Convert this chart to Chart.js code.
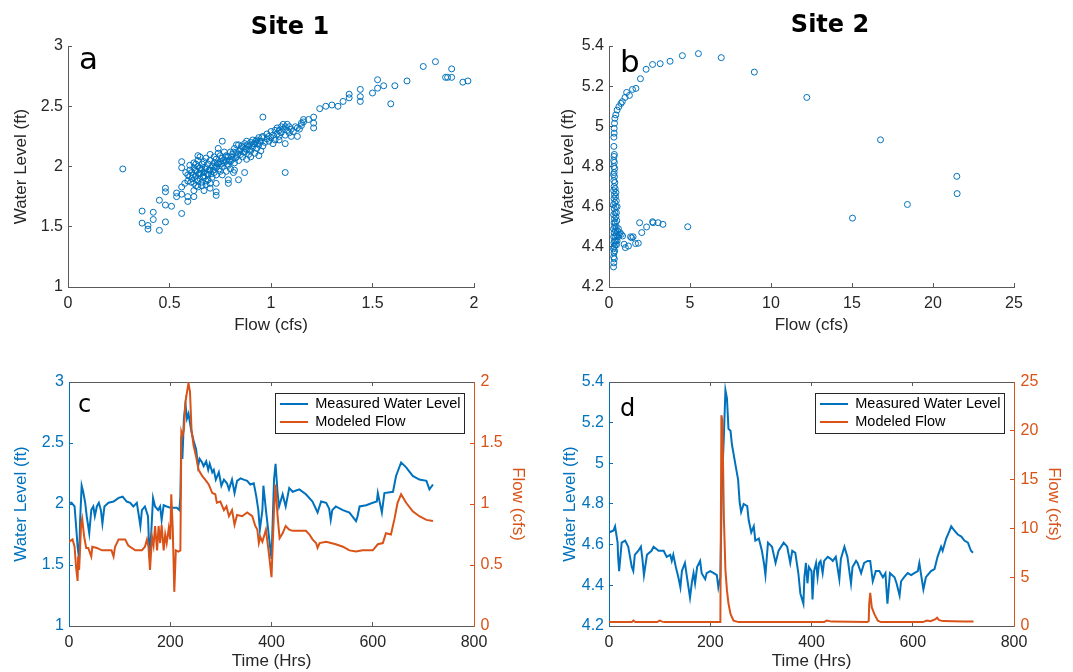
<!DOCTYPE html>
<html>
<head>
<meta charset="utf-8">
<title>Water Level and Flow - Site 1 and Site 2</title>
<style>
  body { margin: 0; background: #fff; }
  #wrap { position: relative; width: 1073px; height: 672px; }
  canvas { position: absolute; }
</style>
</head>
<body>
<div id="wrap">
  <canvas id="chartA" width="537" height="336" style="left:0;top:0"></canvas>
  <canvas id="chartB" width="536" height="336" style="left:537px;top:0"></canvas>
  <canvas id="chartC" width="537" height="336" style="left:0;top:336px"></canvas>
  <canvas id="chartD" width="536" height="336" style="left:537px;top:336px"></canvas>
</div>

<script src="https://cdn.jsdelivr.net/npm/chart.js@4.4.1/dist/chart.umd.min.js"></script>
<script>
// ---- data ----
// panel a: [flow cfs, water level ft]
var siteOneRating = [
  [0.27,1.98],[0.365,1.63],[0.365,1.53],[0.394,1.51],[0.394,1.48],[0.42,1.62],[0.42,1.56],[0.45,1.72],
  [0.45,1.47],[0.48,1.82],[0.48,1.79],[0.48,1.68],[0.48,1.54],[0.51,1.67],[0.535,1.78],[0.535,1.75],
  [0.56,2.04],[0.56,1.99],[0.56,1.83],[0.56,1.77],[0.56,1.61],[0.575,1.86],[0.59,1.71],[0.59,1.75],
  [0.58,1.95],[0.62,1.75],[0.67,1.80],[0.70,1.82],[0.73,1.76],[0.73,1.79],[0.73,1.86],[0.76,2.21],
  [0.79,1.86],[0.79,1.89],[0.84,1.89],[0.87,1.95],[0.815,1.95],[0.82,1.97],[0.96,2.41],[1.07,1.95],
  [1.01,2.19],[1.07,2.19],[1.04,2.22],[1.10,2.25],[1.13,2.25],[1.13,2.32],[1.16,2.39],[1.185,2.39],
  [1.21,2.41],[1.21,2.32],[1.21,2.36],[1.24,2.48],[1.27,2.50],[1.30,2.51],[1.33,2.50],[1.355,2.54],
  [1.385,2.60],[1.385,2.57],[1.44,2.64],[1.44,2.58],[1.44,2.54],[1.50,2.61],[1.525,2.72],[1.525,2.65],
  [1.555,2.67],[1.59,2.52],[1.61,2.67],[1.67,2.71],[1.75,2.83],[1.81,2.87],[1.86,2.74],[1.87,2.74],
  [1.89,2.81],[1.89,2.74],[1.945,2.70],[1.97,2.71],
  [0.59,1.88],[0.59,1.93],[0.60,1.97],[0.60,2.01],[0.61,1.90],[0.61,1.95],[0.62,1.86],[0.62,1.99],
  [0.62,2.03],[0.60,1.92],[0.63,1.84],[0.63,1.92],[0.63,1.96],[0.64,1.88],[0.64,2.00],[0.64,2.05],
  [0.65,1.90],[0.65,1.94],[0.65,2.08],[0.66,1.87],[0.66,1.98],[0.66,2.02],[0.64,2.09],[0.63,2.02],
  [0.65,1.99],[0.67,1.91],[0.67,1.95],[0.67,2.04],[0.68,1.88],[0.68,1.99],[0.68,2.07],[0.69,1.93],
  [0.69,2.02],[0.70,1.86],[0.70,1.97],[0.70,2.05],[0.70,2.10],[0.71,1.91],[0.71,2.00],[0.72,1.95],
  [0.72,2.03],[0.72,2.08],[0.69,1.89],[0.73,1.93],[0.73,1.99],[0.73,2.06],[0.74,2.02],[0.74,2.11],
  [0.74,2.15],[0.75,1.96],[0.75,2.04],[0.75,2.09],[0.76,1.93],[0.76,2.00],[0.76,2.07],[0.77,2.03],
  [0.77,2.12],[0.78,1.96],[0.78,2.05],[0.78,2.09],[0.79,2.01],[0.79,2.08],[0.80,2.04],[0.80,2.12],
  [0.80,1.98],[0.81,2.06],[0.81,2.10],[0.82,2.03],[0.82,2.15],[0.83,2.08],[0.83,2.12],[0.84,2.05],
  [0.84,2.18],[0.85,2.10],[0.85,2.14],[0.83,2.18],[0.86,2.08],[0.86,2.16],[0.87,2.12],[0.87,2.19],
  [0.88,2.06],[0.88,2.14],[0.88,2.21],[0.89,2.10],[0.89,2.17],[0.90,2.13],[0.90,2.20],[0.90,2.08],
  [0.91,2.16],[0.91,2.22],[0.92,2.11],[0.92,2.19],[0.93,2.15],[0.93,2.22],[0.94,2.09],[0.94,2.18],
  [0.94,2.24],[0.95,2.13],[0.95,2.21],[0.96,2.17],[0.96,2.25],[0.97,2.20],[0.98,2.23],[0.98,2.27],
  [0.99,2.21],[0.99,2.25],[1.00,2.24],[1.00,2.29],[1.01,2.26],[1.02,2.22],[1.02,2.30],[1.03,2.27],
  [1.03,2.32],[1.04,2.25],[1.04,2.30],[1.05,2.33],[1.05,2.28],[1.06,2.31],[1.06,2.35],[1.07,2.26],
  [1.07,2.33],[1.08,2.30],[1.08,2.35],[1.09,2.28],[1.09,2.33],[1.10,2.31],[1.11,2.29],[1.12,2.33],
  [1.14,2.31],[1.15,2.36],[1.15,2.34],[1.16,2.37],
  [0.605,1.87],[0.615,1.93],[0.625,1.97],[0.635,1.89],[0.645,1.94],[0.655,1.97],[0.665,1.92],[0.675,1.98],
  [0.685,1.94],[0.695,1.97],[0.705,1.94],[0.715,1.97],[0.725,2.00],[0.735,2.03],[0.745,1.98],[0.755,2.02],
  [0.765,2.05],[0.775,2.08],[0.785,2.02],[0.795,2.05],[0.805,2.08],[0.815,2.12],[0.825,2.07],[0.835,2.10],
  [0.845,2.13],[0.855,2.17],[0.865,2.12],[0.875,2.15],[0.885,2.18],[0.895,2.14],[0.905,2.17],[0.915,2.19],
  [0.925,2.21],[0.935,2.19],[0.945,2.21],[0.955,2.24],[0.62,1.80],[0.64,1.83],[0.66,1.84],[0.68,1.85]
];

// panel b: [flow cfs, water level ft]
var siteTwoRating = [
  [0.30,4.90],[0.30,4.946],[0.32,4.966],[0.32,4.99],[0.34,5.015],[0.36,5.04],[0.42,5.057],[0.50,5.081],
  [0.61,5.098],[0.74,5.114],[0.82,5.123],[0.99,5.144],[1.09,5.169],[1.26,5.154],[1.45,5.184],[1.66,5.189],
  [1.94,5.237],[2.29,5.284],[2.69,5.308],[3.16,5.312],[3.77,5.324],[4.53,5.352],[5.52,5.362],[6.93,5.342],
  [8.97,5.27],[12.21,5.144],[16.76,4.933],[21.47,4.751],[21.49,4.665],[18.42,4.611],[15.03,4.543],[4.86,4.50],
  [1.89,4.52],[2.69,4.525],[2.72,4.52],[3.03,4.52],[3.33,4.512],[2.32,4.499],[2.02,4.471],[1.81,4.418],
  [1.64,4.416],[1.49,4.45],[1.40,4.445],[1.33,4.45],[1.20,4.404],[1.01,4.396],[0.93,4.413],[0.84,4.454],
  [0.76,4.462],
  [0.28,4.30],[0.30,4.32],[0.33,4.34],[0.29,4.35],[0.31,4.37],[0.35,4.38],[0.28,4.39],[0.32,4.40],
  [0.38,4.41],[0.30,4.42],[0.34,4.43],[0.42,4.43],[0.29,4.45],[0.37,4.45],[0.46,4.46],[0.32,4.47],
  [0.40,4.48],[0.52,4.48],[0.28,4.49],[0.35,4.50],[0.44,4.50],[0.58,4.49],[0.31,4.52],[0.39,4.52],
  [0.48,4.53],[0.34,4.54],[0.43,4.55],[0.29,4.56],[0.37,4.57],[0.46,4.57],[0.32,4.59],[0.41,4.60],
  [0.50,4.60],[0.28,4.61],[0.36,4.62],[0.45,4.63],[0.31,4.64],[0.40,4.65],[0.34,4.66],[0.43,4.67],
  [0.29,4.68],[0.38,4.69],[0.32,4.70],[0.36,4.72],[0.30,4.73],[0.34,4.75],[0.28,4.76],[0.32,4.77],
  [0.35,4.79],[0.30,4.80],[0.33,4.82],[0.29,4.83],[0.31,4.85],[0.33,4.86],[0.62,4.46],[0.68,4.47],
  [0.55,4.45],[0.50,4.43],[0.46,4.41]
];

// panel c: [hours, value]
var siteOneLevel = [
  [0,2.01],[5,2.01],[11,1.98],[14,1.82],[17,1.65],[20,1.55],[22,1.87],[25,2.15],[28,2.10],[32,2.01],
  [35,1.90],[40,1.76],[44,1.95],[48,1.98],[51,1.90],[55,1.98],[59,2.01],[63,1.95],[66,1.84],[70,1.98],
  [78,2.01],[88,2.02],[98,2.05],[106,2.06],[114,2.02],[121,2.01],[127,1.98],[134,2.01],[137,1.93],[141,1.82],
  [144,1.95],[150,1.98],[156,1.90],[159,1.57],[162,1.73],[166,2.05],[170,1.98],[176,1.95],[180,1.98],[183,1.87],
  [187,1.99],[193,1.98],[200,1.97],[207,1.97],[213,1.97],[218,1.95],[220,2.06],[222,2.56],[224,2.37],[227,2.70],
  [230,2.82],[233,2.70],[236,2.74],[242,2.59],[246,2.52],[251,2.45],[255,2.31],[258,2.37],[263,2.34],[266,2.31],
  [271,2.35],[275,2.28],[278,2.33],[283,2.26],[286,2.28],[290,2.20],[296,2.26],[301,2.15],[306,2.20],[312,2.17],
  [316,2.12],[322,2.20],[327,2.09],[332,2.19],[339,2.21],[345,2.20],[352,2.19],[358,2.16],[365,2.17],[370,2.06],
  [374,1.95],[377,1.79],[382,1.95],[384,2.15],[389,1.95],[395,1.73],[400,1.55],[405,2.20],[408,2.33],[412,2.09],
  [415,1.98],[422,2.08],[428,1.98],[435,2.13],[442,2.10],[455,2.12],[468,2.08],[481,2.02],[491,1.93],[498,2.02],
  [508,2.01],[514,1.96],[517,1.87],[520,1.95],[527,1.98],[541,1.95],[554,1.93],[567,1.86],[570,1.90],[574,1.98],
  [587,1.99],[600,2.01],[608,2.02],[610,2.09],[613,2.03],[618,1.93],[623,2.09],[640,2.10],[646,2.23],[656,2.34],
  [666,2.30],[679,2.23],[692,2.20],[706,2.19],[712,2.12],[719,2.16]
];
var siteOneFlow = [
  [0,0.69],[7,0.71],[11,0.65],[14,0.48],[17,0.37],[18,0.57],[20,0.46],[24,0.84],[26,0.88],[30,0.73],
  [34,0.64],[38,0.64],[44,0.57],[46,0.65],[55,0.64],[65,0.62],[75,0.62],[84,0.62],[88,0.57],[91,0.65],
  [98,0.71],[111,0.71],[117,0.66],[131,0.62],[144,0.62],[150,0.65],[154,0.71],[157,0.65],[160,0.46],[164,0.73],
  [167,0.66],[170,0.82],[174,0.62],[177,0.82],[180,0.68],[183,0.83],[187,0.62],[190,0.75],[193,0.68],[197,0.80],
  [200,0.71],[202,1.08],[205,0.79],[208,0.28],[211,0.62],[216,0.61],[220,0.62],[222,1.59],[224,1.56],[227,1.61],
  [230,1.83],[232,1.89],[234,1.94],[236,1.99],[239,1.92],[242,1.61],[246,1.48],[251,1.39],[256,1.28],[263,1.23],
  [269,1.20],[276,1.16],[283,1.09],[289,1.08],[292,1.01],[299,1.02],[306,0.95],[311,0.98],[316,0.90],[322,0.95],
  [327,0.83],[332,0.91],[342,0.90],[352,0.93],[362,0.90],[368,0.82],[372,0.79],[375,0.68],[378,0.73],[382,0.69],
  [389,0.79],[395,0.59],[400,0.40],[405,0.95],[408,1.16],[412,0.90],[416,0.72],[422,0.76],[428,0.82],[435,0.79],
  [442,0.78],[468,0.78],[475,0.75],[481,0.71],[488,0.68],[491,0.64],[495,0.68],[508,0.69],[527,0.67],[541,0.65],
  [554,0.62],[567,0.61],[580,0.62],[600,0.62],[610,0.67],[620,0.68],[626,0.76],[636,0.75],[643,0.88],[649,1.01],
  [656,1.08],[666,1.01],[679,0.94],[692,0.90],[706,0.87],[719,0.86]
];

// panel d: [hours, value]
var siteTwoLevel = [
  [0,4.66],[9,4.67],[12,4.69],[17,4.61],[18,4.54],[20,4.47],[25,4.61],[32,4.62],[38,4.59],[45,4.49],
  [48,4.47],[51,4.55],[58,4.57],[63,4.59],[66,4.53],[69,4.45],[75,4.55],[84,4.57],[88,4.59],[98,4.57],
  [108,4.57],[114,4.54],[121,4.55],[124,4.52],[127,4.55],[132,4.49],[137,4.44],[141,4.39],[144,4.47],[150,4.51],
  [154,4.44],[160,4.34],[164,4.42],[167,4.46],[170,4.41],[174,4.49],[180,4.52],[183,4.46],[190,4.43],[193,4.46],
  [200,4.47],[207,4.46],[213,4.45],[216,4.39],[220,4.44],[223,4.89],[227,5.14],[230,5.36],[233,5.32],[236,5.17],
  [240,5.16],[243,5.09],[250,4.99],[255,4.92],[258,4.81],[261,4.76],[266,4.80],[273,4.79],[276,4.72],[281,4.66],
  [286,4.69],[289,4.62],[296,4.63],[302,4.57],[306,4.51],[309,4.45],[314,4.61],[322,4.59],[329,4.51],[335,4.57],
  [345,4.61],[352,4.59],[358,4.51],[362,4.57],[368,4.56],[374,4.46],[378,4.36],[384,4.31],[386,4.44],[389,4.51],
  [392,4.41],[395,4.49],[400,4.47],[402,4.33],[405,4.47],[409,4.51],[412,4.44],[415,4.51],[418,4.52],[422,4.46],
  [425,4.52],[432,4.54],[438,4.53],[442,4.52],[448,4.54],[455,4.43],[458,4.53],[465,4.59],[471,4.54],[478,4.41],
  [481,4.49],[488,4.52],[491,4.51],[498,4.46],[504,4.51],[511,4.52],[516,4.52],[521,4.42],[527,4.47],[534,4.47],
  [541,4.44],[546,4.46],[550,4.31],[555,4.46],[564,4.44],[568,4.41],[574,4.35],[577,4.42],[583,4.44],[590,4.46],
  [597,4.45],[603,4.46],[610,4.47],[613,4.51],[616,4.46],[621,4.38],[626,4.44],[636,4.47],[643,4.48],[649,4.54],
  [656,4.59],[659,4.57],[666,4.63],[673,4.67],[676,4.69],[682,4.67],[689,4.65],[696,4.64],[702,4.62],[709,4.61],
  [715,4.57],[719,4.56]
];
var siteTwoFlow = [
  [0,0.40],[45,0.40],[48,0.55],[52,0.40],[95,0.40],[100,0.55],[105,0.45],[110,0.40],[220,0.40],[222,21.6],
  [224,21.0],[227,10.9],[230,5.7],[233,3.65],[236,2.3],[240,1.24],[246,0.55],[256,0.40],[425,0.40],[430,0.55],
  [440,0.45],[510,0.40],[513,0.50],[514,2.3],[516,3.4],[519,1.93],[524,1.24],[531,0.55],[537,0.40],[620,0.40],
  [628,0.55],[635,0.50],[645,0.70],[648,0.85],[652,0.60],[660,0.50],[700,0.45],[720,0.45]
];

var BLUE = '#0072BD';
var ORANGE = '#D95319';
var AXIS = '#5a5a5a';
var TEXT = '#262626';

Chart.defaults.font.family = '"Liberation Sans", Arial, Helvetica, sans-serif';
Chart.defaults.font.size = 16;
Chart.defaults.color = TEXT;
Chart.defaults.animation = false;

function toXY(pairs) {
  return pairs.map(function (p) { return { x: p[0], y: p[1] }; });
}

// MATLAB style labels: "2" not "2.0"
function plainLabel(value) {
  return String(Math.round(value * 100) / 100);
}

function makeAxis(o) {
  var horizontal = o.pos === 'top' || o.pos === 'bottom';
  return {
    type: 'linear',
    position: o.pos,
    min: o.min,
    max: o.max,
    ticks: { stepSize: o.step, color: o.color, padding: o.pad || 0, display: o.labels !== false,
             maxRotation: 0, autoSkip: false, callback: plainLabel },
    grid: { drawOnChartArea: false, tickLength: -4, color: o.line || o.color },
    border: { color: o.line || o.color, width: 1 },
    title: { display: !!o.title, text: o.title, color: o.color, font: { size: 17 }, padding: o.titlePad },
    afterFit: function (s) {
      if (horizontal) s.height = o.size; else s.width = o.size;
    }
  };
}

// panel letters, site titles, and the legend placed inside the plot box
var panelExtras = {
  id: 'panelExtras',
  afterLayout: function (chart) {
    var lg = chart.legend;
    if (!lg || !lg.options.display) return;
    var a = chart.chartArea;
    var w = lg.width, h = lg.height;
    lg.left = a.left + 211 - 3.5;
    lg.top = a.top + 11.25;
    lg.right = lg.left + w;
    lg.bottom = lg.top + h;
  },
  afterDraw: function (chart, args, opts) {
    var ctx = chart.ctx, a = chart.chartArea;
    ctx.save();
    ctx.fillStyle = '#000';
    ctx.textBaseline = 'alphabetic';
    ctx.font = opts.letterSize + 'px "DejaVu Sans"';
    ctx.fillText(opts.letter, a.left + opts.dx, a.top + opts.dy);
    if (opts.title) {
      ctx.font = 'bold 24px "DejaVu Sans"';
      ctx.textAlign = 'center';
      ctx.fillText(opts.title, opts.titleX, opts.titleY);
    }
    if (opts.legendBox) {
      ctx.strokeStyle = TEXT;
      ctx.lineWidth = 1;
      ctx.strokeRect(a.left + 206.5, a.top + 11.5, 189, 40);
    }
    ctx.restore();
  }
};

function scatterChart(id, pairs, o) {
  return new Chart(document.getElementById(id), {
    type: 'scatter',
    data: {
      datasets: [{
        data: toXY(pairs),
        pointStyle: 'circle',
        pointRadius: 3,
        pointHoverRadius: 3,
        borderWidth: 1,
        borderColor: BLUE,
        backgroundColor: 'rgba(0,0,0,0)'
      }]
    },
    options: {
      responsive: false,
      events: [],
      layout: { padding: { top: 46, right: o.right, left: 0, bottom: 0 } },
      plugins: { legend: { display: false }, tooltip: { enabled: false }, panelExtras: o.extras },
      scales: {
        x: makeAxis({ pos: 'bottom', min: o.xMin, max: o.xMax, step: o.xStep, color: TEXT, line: AXIS,
                      title: 'Flow (cfs)', titlePad: { top: 0, bottom: 0 }, size: 49, pad: 11 }),
        y: makeAxis({ pos: 'left', min: o.yMin, max: o.yMax, step: o.yStep, color: TEXT, line: AXIS,
                      title: 'Water Level (ft)', titlePad: { top: o.yTitlePad }, size: o.left, pad: 9 })
      }
    },
    plugins: [panelExtras]
  });
}

function seriesChart(id, level, flow, o) {
  return new Chart(document.getElementById(id), {
    type: 'line',
    data: {
      datasets: [
        { label: 'Measured Water Level', data: toXY(level), yAxisID: 'y', borderColor: BLUE,
          backgroundColor: BLUE, borderWidth: 2, pointRadius: 0, tension: 0, order: 1 },
        { label: 'Modeled Flow', data: toXY(flow), yAxisID: 'y1', borderColor: ORANGE,
          backgroundColor: ORANGE, borderWidth: 2, pointRadius: 0, tension: 0, order: 0 }
      ]
    },
    options: {
      responsive: false,
      events: [],
      layout: { padding: { top: 46, right: 0, left: 0, bottom: 0 } },
      plugins: {
        tooltip: { enabled: false },
        legend: {
          display: true,
          position: 'chartArea',
          align: 'start',
          labels: {
            usePointStyle: true, pointStyle: 'line', pointStyleWidth: 28, padding: 3.5,
            color: '#000', font: { size: 14.5 },
            sort: function (a, b) { return a.datasetIndex - b.datasetIndex; }
          }
        },
        panelExtras: o.extras
      },
      scales: {
        x: makeAxis({ pos: 'bottom', min: 0, max: 800, step: 200, color: TEXT, line: AXIS,
                      title: 'Time (Hrs)', titlePad: { top: 0, bottom: 0 }, size: 46, pad: 11 }),
        xTop: makeAxis({ pos: 'top', min: 0, max: 800, step: 200, color: AXIS, labels: false, size: 0 }),
        y: makeAxis({ pos: 'left', min: o.yMin, max: o.yMax, step: o.yStep, color: BLUE,
                      title: 'Water Level (ft)', titlePad: { top: o.yTitlePad }, size: o.left, pad: 9 }),
        y1: makeAxis({ pos: 'right', min: o.fMin, max: o.fMax, step: o.fStep, color: ORANGE,
                       title: 'Flow (cfs)', titlePad: { top: o.fTitlePad }, size: o.right, pad: 10.5 })
      }
    },
    plugins: [panelExtras]
  });
}

window.onload = function () {
  scatterChart('chartA', siteOneRating, {
    xMin: 0, xMax: 2, xStep: 0.5, yMin: 1, yMax: 3, yStep: 0.5,
    left: 68, right: 63, yTitlePad: 11,
    extras: { letter: 'a', letterSize: 31, dx: 11, dy: 23, title: 'Site 1', titleX: 290, titleY: 34 }
  });
  scatterChart('chartB', siteTwoRating, {
    xMin: 0, xMax: 25, xStep: 5, yMin: 4.2, yMax: 5.4, yStep: 0.2,
    left: 72, right: 59, yTitlePad: 21,
    extras: { letter: 'b', letterSize: 31, dx: 11, dy: 26, title: 'Site 2', titleX: 293, titleY: 32 }
  });
  seriesChart('chartC', siteOneLevel, siteOneFlow, {
    yMin: 1, yMax: 3, yStep: 0.5, fMin: 0, fMax: 2, fStep: 0.5,
    left: 69, right: 63, yTitlePad: 11.5, fTitlePad: 9.5,
    extras: { letter: 'c', letterSize: 24, dx: 9, dy: 30, legendBox: true }
  });
  seriesChart('chartD', siteTwoLevel, siteTwoFlow, {
    yMin: 4.2, yMax: 5.4, yStep: 0.2, fMin: 0, fMax: 25, fStep: 5,
    left: 72, right: 59, yTitlePad: 23, fTitlePad: 9,
    extras: { letter: 'd', letterSize: 24, dx: 11, dy: 34, legendBox: true }
  });
};
</script>
</body>
</html>
